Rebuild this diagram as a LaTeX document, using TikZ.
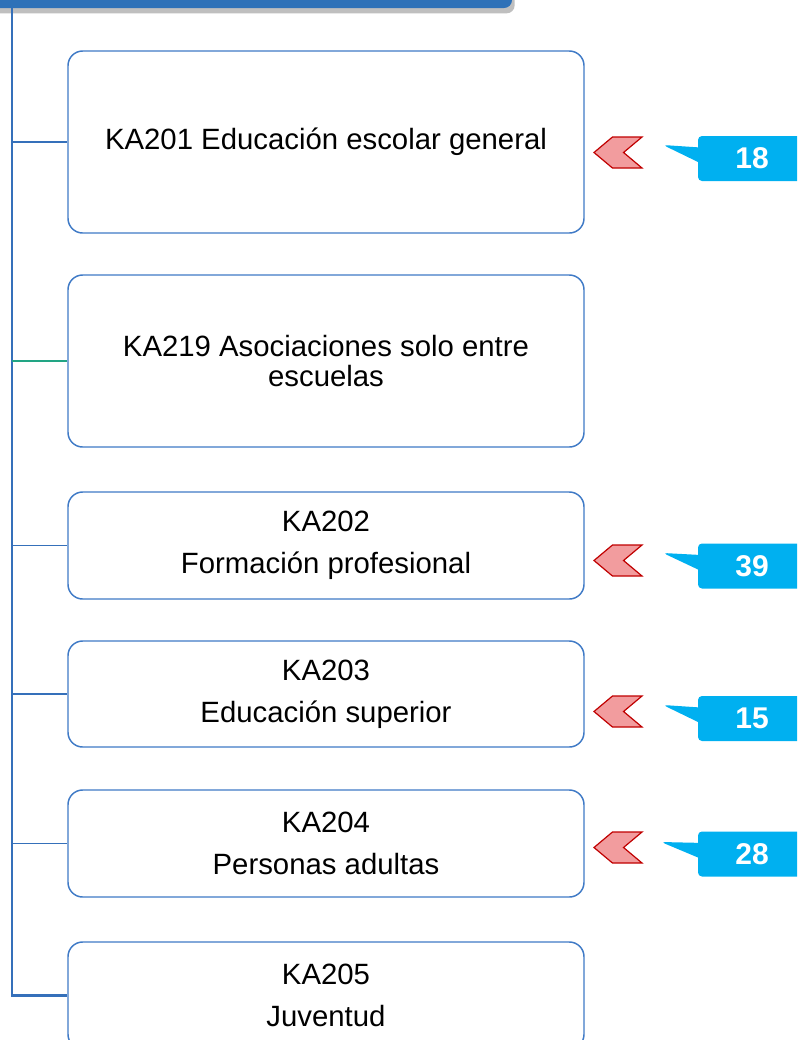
\documentclass[tikz,border=0pt]{standalone}
\usepackage{fontspec}
\setmainfont{Liberation Sans}
\usetikzlibrary{positioning,shapes.symbols,shapes.callouts,shadows}
\definecolor{barblue}{HTML}{2E71B8}
\definecolor{lineblue}{HTML}{3570BA}
\definecolor{boxblue}{HTML}{3F7AC6}
\definecolor{branchgreen}{HTML}{22A584}
\definecolor{chevfill}{HTML}{F29C9E}
\definecolor{chevdraw}{HTML}{C00000}
\definecolor{tagcyan}{HTML}{00B0F0}
\tikzset{
  topic/.style={draw=boxblue,fill=white,line width=1.1pt,rounded corners=11pt,
                minimum width=387pt,align=center,inner sep=0pt,
                font=\fontsize{22}{22.5}\selectfont},
  topictwo/.style={topic,font=\fontsize{22}{31.5}\selectfont},
  headbar/.style={fill=barblue,rounded corners=6pt,minimum width=406.5pt,
                  minimum height=36pt,inner sep=0pt,
                  drop shadow={shadow xshift=2pt,shadow yshift=-4pt,
                               fill=black,opacity=0.25}},
  trunk/.style={draw=lineblue,line width=1.6pt},
  branch/.style={draw=lineblue,line width=1.3pt},
  greenbranch/.style={draw=branchgreen,line width=1.3pt},
  chevron/.style={signal,signal to=west,signal from=east,
                  signal pointer angle=80,fill=chevfill,draw=chevdraw,
                  line width=0.9pt,minimum width=36pt,minimum height=23.25pt,
                  inner sep=0pt},
  numtag/.style={rectangle callout,fill=tagcyan,text=white,
                 rounded corners=3pt,callout pointer width=11pt,
                 minimum width=81pt,minimum height=33.75pt,inner sep=0pt,
                 font=\fontsize{22.5}{24}\selectfont\bfseries}
}
\begin{document}
\begin{tikzpicture}[x=0.75pt,y=-0.75pt]
    \clip (0,0) rectangle (797,1040);

    % header strip along the top edge
    \node[headbar] (bar) at (241,-16) {};
    \coordinate (trunktop) at (12,8);

    \node[topic,minimum height=136.5pt] (ka201) at (326,142)
      {KA201 Educación escolar general};
    \node[topic,minimum height=129pt] (ka219) at (326,361)
      {KA219 Asociaciones solo entre\\escuelas};
    \node[topictwo,minimum height=80.25pt] (ka202) at (326,545.5)
      {KA202\\Formación profesional};
    \node[topictwo,minimum height=79.5pt] (ka203) at (326,694)
      {KA203\\Educación superior};
    \node[topictwo,minimum height=80.25pt] (ka204) at (326,843.5)
      {KA204\\Personas adultas};
    \node[topictwo,minimum height=80.25pt] (ka205) at (326,995.5)
      {KA205\\Juventud};

    \draw[trunk] (trunktop) |- (ka205.west);
    \draw[branch] (trunktop |- ka201.west) -- (ka201.west);
    \draw[greenbranch] (trunktop |- ka219.west) -- (ka219.west);
    \draw[branch] (trunktop |- ka202.west) -- (ka202.west);
    \draw[branch] (trunktop |- ka203.west) -- (ka203.west);
    \draw[branch] (trunktop |- ka204.west) -- (ka204.west);

    % counts with their markers
    \node[chevron] (mark201) at (618,152.5) {};
    \node[numtag,callout absolute pointer={(663,145)}] (n201) at (752,158.5) {18};
    \node[chevron] (mark202) at (618,560.5) {};
    \node[numtag,callout absolute pointer={(663,553)}] (n202) at (752,566) {39};
    \node[chevron] (mark203) at (618,711.5) {};
    \node[numtag,callout absolute pointer={(663,705)}] (n203) at (752,718.5) {15};
    \node[chevron] (mark204) at (618,847.5) {};
    \node[numtag,callout absolute pointer={(661,842)}] (n204) at (752,854) {28};
  \end{tikzpicture}
\end{document}
